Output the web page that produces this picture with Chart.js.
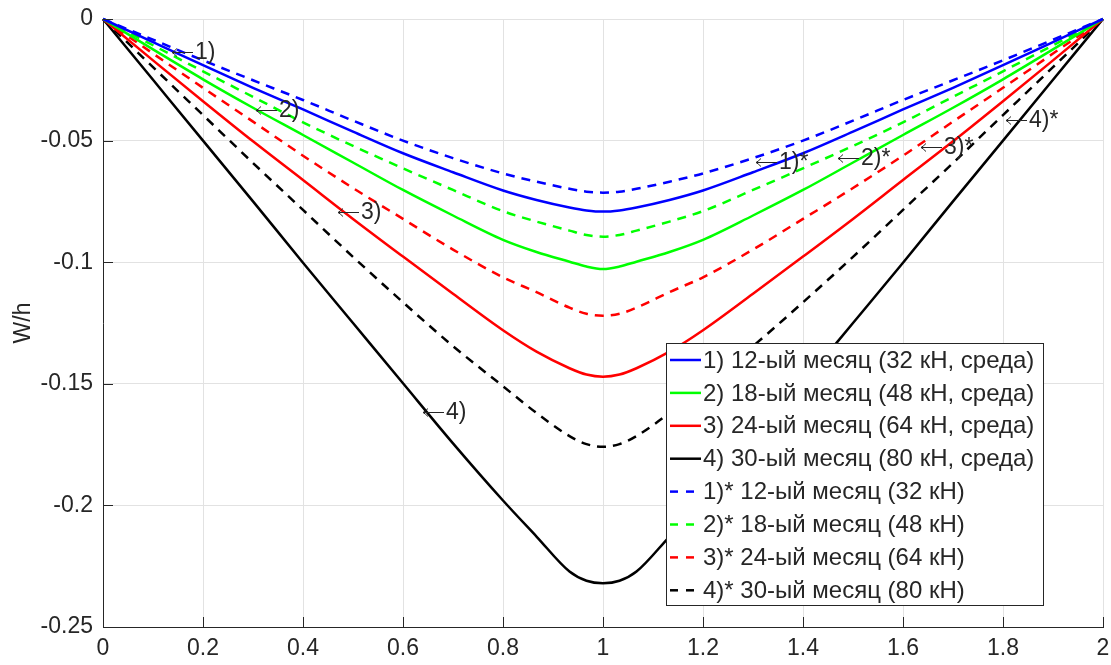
<!DOCTYPE html>
<html>
<head>
<meta charset="utf-8">
<title>W/h</title>
<script src="https://cdn.jsdelivr.net/npm/chart.js@4.4.1/dist/chart.umd.min.js"></script>
<style>
  html, body { margin: 0; padding: 0; background: #fff; }
  canvas { display: block; }
</style>
</head>
<body>
<canvas id="grafic" width="1111" height="665"></canvas>
<script>
// Coordenades x/L
const xs = [0, 0.1, 0.2, 0.3, 0.4, 0.5, 0.6, 0.7, 0.8, 0.867, 0.933, 0.967, 1,
            1.033, 1.067, 1.133, 1.2, 1.3, 1.4, 1.5, 1.6, 1.7, 1.8, 1.9, 2];

// Flexions W/h amb medi (línia contínua)
const w12 = [0, -0.0095, -0.0190, -0.0283, -0.0372, -0.0463, -0.0552, -0.0630, -0.0705, -0.0744, -0.0775, -0.0787, -0.0792,
             -0.0787, -0.0775, -0.0744, -0.0705, -0.0630, -0.0552, -0.0463, -0.0372, -0.0283, -0.0190, -0.0095, 0];
const w18 = [0, -0.0125, -0.0248, -0.0365, -0.0477, -0.0590, -0.0703, -0.0808, -0.0908, -0.0958, -0.0998, -0.1018, -0.1028,
             -0.1018, -0.0998, -0.0958, -0.0908, -0.0808, -0.0703, -0.0590, -0.0477, -0.0365, -0.0248, -0.0125, 0];
const w24 = [0, -0.0170, -0.0338, -0.0503, -0.0662, -0.0822, -0.0977, -0.1130, -0.1280, -0.1368, -0.1436, -0.1462, -0.1471,
             -0.1462, -0.1436, -0.1368, -0.1280, -0.1130, -0.0977, -0.0822, -0.0662, -0.0503, -0.0338, -0.0170, 0];
const w30 = [0, -0.0250, -0.0500, -0.0750, -0.1002, -0.1250, -0.1498, -0.1745, -0.1980, -0.2128, -0.2272, -0.2310, -0.2320,
             -0.2310, -0.2272, -0.2128, -0.1980, -0.1745, -0.1498, -0.1250, -0.1002, -0.0750, -0.0500, -0.0250, 0];

// Sense medi (línia discontínua)
const d12 = [0, -0.0085, -0.0170, -0.0252, -0.0333, -0.0418, -0.0500, -0.0572, -0.0635, -0.0669, -0.0698, -0.0710, -0.0714,
             -0.0710, -0.0698, -0.0669, -0.0635, -0.0572, -0.0500, -0.0418, -0.0333, -0.0252, -0.0170, -0.0085, 0];
const d18 = [0, -0.0108, -0.0215, -0.0320, -0.0425, -0.0522, -0.0614, -0.0703, -0.0790, -0.0833, -0.0870, -0.0888, -0.0895,
             -0.0888, -0.0870, -0.0833, -0.0790, -0.0703, -0.0614, -0.0522, -0.0425, -0.0320, -0.0215, -0.0108, 0];
const d24 = [0, -0.0142, -0.0283, -0.0422, -0.0562, -0.0695, -0.0822, -0.0948, -0.1062, -0.1123, -0.1187, -0.1212, -0.1220,
             -0.1212, -0.1187, -0.1123, -0.1062, -0.0948, -0.0822, -0.0695, -0.0562, -0.0422, -0.0283, -0.0142, 0];
const d30 = [0, -0.0198, -0.0395, -0.0592, -0.0785, -0.0978, -0.1165, -0.1345, -0.1510, -0.1620, -0.1715, -0.1748, -0.1759,
             -0.1748, -0.1715, -0.1620, -0.1510, -0.1345, -0.1165, -0.0978, -0.0785, -0.0592, -0.0395, -0.0198, 0];

const noms = ['1) 12-ый месяц (32 кН, среда)', '2) 18-ый месяц (48 кН, среда)',
              '3) 24-ый месяц (64 кН, среда)', '4) 30-ый месяц (80 кН, среда)',
              '1)* 12-ый месяц (32 кН)', '2)* 18-ый месяц (48 кН)',
              '3)* 24-ый месяц (64 кН)', '4)* 30-ый месяц (80 кН)'];

// Etiquetes amb fletxa sobre les corbes
const notes = ['1)', '2)', '3)', '4)', '1)*', '2)*', '3)*', '4)*'];
const notesX = [0.138, 0.306, 0.47, 0.64, 1.306, 1.47, 1.636, 1.806];
const notesY = [-0.0135, -0.0374, -0.0792, -0.1618, -0.0587, -0.0570, -0.0525, -0.0415];

const xTicks = [0, 0.2, 0.4, 0.6, 0.8, 1, 1.2, 1.4, 1.6, 1.8, 2];
const yTicks = [0, -0.05, -0.1, -0.15, -0.2, -0.25];

const series = [w12, w18, w24, w30, d12, d18, d24, d30];
const colors = ['#0000ff', '#00ff00', '#ff0000', '#000000'];
const TEXT = '#262626';
const FONT = '"Liberation Sans", Arial, sans-serif';

function fmt(v) {
	let s = String(+Number(v).toFixed(2));
	return s === '-0' ? '0' : s;
}

const datasets = series.map((arr, i) => ({
	label: noms[i],
	data: xs.map((x, j) => ({ x: x, y: arr[j] })),
	borderColor: colors[i % 4],
	borderWidth: 2.5,
	borderDash: i < 4 ? [] : [9, 7],
	pointRadius: 0,
	cubicInterpolationMode: 'monotone',
	fill: false,
	clip: false
}));

// Marques interiors dels eixos, etiquetes i llegenda
const decor = {
	id: 'decor',
	afterDatasetsDraw(chart) {
		const ctx = chart.ctx;
		const sx = chart.scales.x, sy = chart.scales.y, a = chart.chartArea;
		ctx.save();

		// ticks cap endins
		ctx.strokeStyle = TEXT;
		ctx.lineWidth = 1;
		ctx.setLineDash([]);
		ctx.beginPath();
		xTicks.forEach(v => {
			let px = Math.round(sx.getPixelForValue(v)) + 0.5;
			ctx.moveTo(px, a.bottom);
			ctx.lineTo(px, a.bottom - 10);
		});
		yTicks.forEach(v => {
			let py = Math.round(sy.getPixelForValue(v)) + 0.5;
			ctx.moveTo(a.left, py);
			ctx.lineTo(a.left + 10, py);
		});
		ctx.stroke();

		// fletxes amb el número de corba
		ctx.fillStyle = TEXT;
		ctx.textBaseline = 'middle';
		ctx.textAlign = 'left';
		ctx.font = '23px ' + FONT;
		notes.forEach((t, i) => {
			let px = sx.getPixelForValue(notesX[i]);
			let py = Math.round(sy.getPixelForValue(notesY[i])) + 0.5;
			ctx.beginPath();
			ctx.moveTo(px + 21, py);
			ctx.lineTo(px, py);
			ctx.moveTo(px + 5, py - 4);
			ctx.quadraticCurveTo(px + 2, py - 1, px, py);
			ctx.quadraticCurveTo(px + 2, py + 1, px + 5, py + 4);
			ctx.stroke();
			ctx.fillText(t, px + 23, py);
		});

		// llegenda
		let bx = 666.5, by = 343.5, bw = 377, bh = 262;
		ctx.fillStyle = '#ffffff';
		ctx.fillRect(bx, by, bw, bh);
		ctx.strokeStyle = TEXT;
		ctx.lineWidth = 1;
		ctx.strokeRect(bx, by, bw, bh);
		ctx.font = '24px ' + FONT;
		chart.data.datasets.forEach((ds, i) => {
			let ry = 360 + i * 32.9;
			ctx.strokeStyle = ds.borderColor;
			ctx.lineWidth = 2.5;
			ctx.beginPath();
			if (ds.borderDash.length) {
				ctx.setLineDash([8, 8]);
				ctx.moveTo(670, ry);
				ctx.lineTo(695, ry);
			} else {
				ctx.setLineDash([]);
				ctx.moveTo(670, ry);
				ctx.lineTo(701, ry);
			}
			ctx.stroke();
			ctx.fillStyle = TEXT;
			ctx.fillText(ds.label, 703, ry + 1);
		});
		ctx.restore();
	}
};

new Chart(document.getElementById('grafic'), {
	type: 'line',
	data: { datasets: datasets },
	plugins: [decor],
	options: {
		responsive: false,
		animation: false,
		devicePixelRatio: 1,
		layout: { padding: { top: 19, right: 8, left: 0, bottom: 0 } },
		plugins: { legend: { display: false }, tooltip: { enabled: false } },
		scales: {
			x: {
				type: 'linear', min: 0, max: 2,
				afterBuildTicks: s => { s.ticks = xTicks.map(v => ({ value: v })); },
				afterFit: s => { s.height = 38; s.paddingLeft = 0; s.paddingRight = 0; },
				grid: { color: '#e2e2e2', drawTicks: false },
				border: { color: TEXT, width: 1 },
				ticks: {
					padding: 8, color: TEXT, autoSkip: false, maxRotation: 0,
					font: { family: FONT, size: 23 },
					callback: v => fmt(v)
				}
			},
			y: {
				type: 'linear', min: -0.25, max: 0,
				afterBuildTicks: s => { s.ticks = yTicks.map(v => ({ value: v })); },
				afterFit: s => { s.width = 103; s.paddingTop = 0; s.paddingBottom = 0; },
				grid: { color: '#e2e2e2', drawTicks: false },
				border: { color: TEXT, width: 1 },
				ticks: {
					padding: 10, color: TEXT, autoSkip: false,
					font: { family: FONT, size: 23 },
					callback: v => fmt(v)
				},
				title: {
					display: true, text: 'W/h', color: TEXT,
					font: { family: FONT, size: 23 },
					padding: { top: 10, bottom: 0 }
				}
			}
		}
	}
});
</script>
</body>
</html>
